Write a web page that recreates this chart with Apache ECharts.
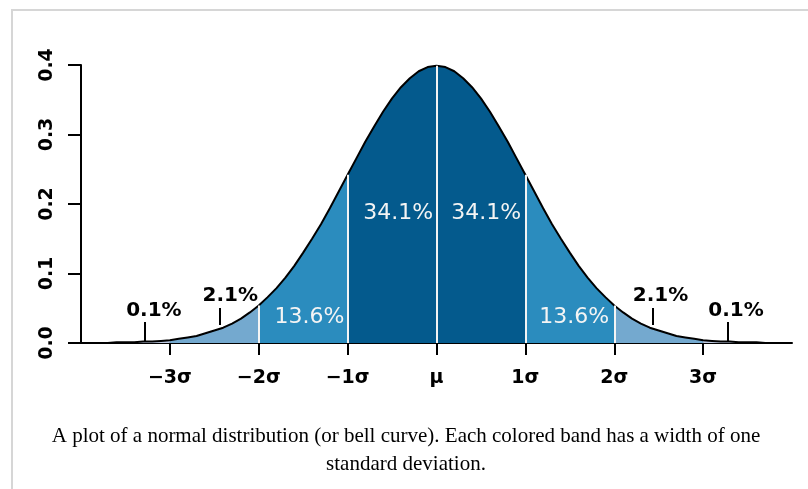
<!DOCTYPE html>
<html>
<head>
<meta charset="utf-8">
<script src="https://cdn.jsdelivr.net/npm/echarts@6/dist/echarts.min.js"></script>
<style>
  html, body { margin: 0; padding: 0; background: #ffffff; }
  #chart { width: 808px; height: 489px; }
</style>
</head>
<body>
<div id="chart"></div>
<script>
// Standard normal curve, x in units of sigma
const sigmaX = [
  -4.0, -3.9, -3.8, -3.7, -3.6, -3.5, -3.4, -3.3, -3.2, -3.1,
  -3.0, -2.9, -2.8, -2.7, -2.6, -2.5, -2.4, -2.3, -2.2, -2.1,
  -2.0, -1.9, -1.8, -1.7, -1.6, -1.5, -1.4, -1.3, -1.2, -1.1,
  -1.0, -0.9, -0.8, -0.7, -0.6, -0.5, -0.4, -0.3, -0.2, -0.1,
   0.0,  0.1,  0.2,  0.3,  0.4,  0.5,  0.6,  0.7,  0.8,  0.9,
   1.0,  1.1,  1.2,  1.3,  1.4,  1.5,  1.6,  1.7,  1.8,  1.9,
   2.0,  2.1,  2.2,  2.3,  2.4,  2.5,  2.6,  2.7,  2.8,  2.9,
   3.0,  3.1,  3.2,  3.3,  3.4,  3.5,  3.6,  3.7,  3.8,  3.9,
   4.0
];
const density = [
  0.000, 0.000, 0.000, 0.000, 0.001, 0.001, 0.001, 0.002, 0.002, 0.003,
  0.004, 0.006, 0.008, 0.010, 0.014, 0.018, 0.022, 0.028, 0.035, 0.044,
  0.054, 0.066, 0.079, 0.094, 0.111, 0.130, 0.150, 0.171, 0.194, 0.218,
  0.242, 0.266, 0.290, 0.312, 0.333, 0.352, 0.368, 0.381, 0.391, 0.397,
  0.399, 0.397, 0.391, 0.381, 0.368, 0.352, 0.333, 0.312, 0.290, 0.266,
  0.242, 0.218, 0.194, 0.171, 0.150, 0.130, 0.111, 0.094, 0.079, 0.066,
  0.054, 0.044, 0.035, 0.028, 0.022, 0.018, 0.014, 0.010, 0.008, 0.006,
  0.004, 0.003, 0.002, 0.002, 0.001, 0.001, 0.001, 0.000, 0.000, 0.000,
  0.000
];

// Axis ticks
const xTickValues = [-3, -2, -1, 0, 1, 2, 3];
const xTickLabels = ['\u22123\u03c3', '\u22122\u03c3', '\u22121\u03c3', '\u03bc', '1\u03c3', '2\u03c3', '3\u03c3'];
const yTickValues = [0, 0.1, 0.2, 0.3, 0.4];

// Bands one sigma wide and the share of the area in each
const bandEdges = [-4, -3, -2, -1, 0, 1, 2, 3, 4];
const bandShares = ['0.1%', '2.1%', '13.6%', '34.1%', '34.1%', '13.6%', '2.1%', '0.1%'];

// Styling / placement (kept apart from the data)
const bandColors = ['#bdc9e1', '#74a9cf', '#2b8cbe', '#045a8d', '#045a8d', '#2b8cbe', '#74a9cf', '#bdc9e1'];
const bandLabelInside = [false, false, true, true, true, true, false, false];
const bandLabelAt = [
  [-3.18, 0.0465], [-2.32, 0.0676], [-1.43, 0.0374], [-0.43, 0.187],
  [0.56, 0.187], [1.55, 0.0374], [2.52, 0.0676], [3.37, 0.0465]
];
// short pointers from the outer labels down to their band
const pointerAt = [
  [-3.28, 0.0029, 0.0302], [-2.44, 0.0259, 0.0504],
  [2.43, 0.0259, 0.0504], [3.28, 0.0029, 0.0302]
];
const dividerAt = [-2, -1, 0, 1, 2];

const points = sigmaX.map((x, i) => [x, density[i]]);
const heightAt = x => density[sigmaX.findIndex(v => Math.abs(v - x) < 1e-9)];

const bandSeries = bandColors.map((color, b) => ({
  type: 'line',
  data: points.filter(p => p[0] >= bandEdges[b] - 1e-9 && p[0] <= bandEdges[b + 1] + 1e-9),
  showSymbol: false,
  silent: true,
  lineStyle: { width: 0 },
  areaStyle: { color: color, opacity: 1 },
  z: 1
}));

const FONT = '"DejaVu Sans", Verdana, sans-serif';
const SERIF = '21px "Liberation Serif", "Times New Roman", serif';

const option = {
  animation: false,
  backgroundColor: '#ffffff',
  grid: { left: 81, right: 16, top: 65, bottom: 146, containLabel: false },
  xAxis: {
    type: 'value',
    min: -4, max: 4, interval: 1,
    axisLine: { show: true, onZero: false, lineStyle: { color: '#000', width: 2 } },
    axisTick: { show: true, customValues: xTickValues, length: 12, lineStyle: { color: '#000', width: 2 } },
    axisLabel: {
      customValues: xTickValues,
      formatter: v => xTickLabels[xTickValues.findIndex(t => Math.abs(t - v) < 1e-9)],
      color: '#000', fontFamily: FONT, fontWeight: 'bold', fontSize: 19, margin: 26
    },
    splitLine: { show: false }
  },
  yAxis: {
    type: 'value',
    min: 0, max: 0.4, interval: 0.1,
    axisLine: { show: true, onZero: false, lineStyle: { color: '#000', width: 2 } },
    axisTick: { show: true, customValues: yTickValues, length: 13, lineStyle: { color: '#000', width: 2 } },
    axisLabel: {
      rotate: 90,
      customValues: yTickValues,
      formatter: v => v.toFixed(1),
      color: '#000', fontFamily: FONT, fontWeight: 'bold', fontSize: 19, margin: 24
    },
    splitLine: { show: false }
  },
  series: [
    ...bandSeries,
    {
      // white dividers between the bands
      type: 'line', data: [], silent: true, z: 2,
      markLine: {
        silent: true, symbol: 'none', animation: false,
        label: { show: false },
        lineStyle: { color: '#f4f4f4', width: 2, type: 'solid', opacity: 1 },
        data: dividerAt.map(x => [{ coord: [x, 0] }, { coord: [x, heightAt(x)] }])
      }
    },
    {
      // the density curve itself
      type: 'line', data: points, showSymbol: false, silent: true, z: 3,
      lineStyle: { color: '#000', width: 2 }
    },
    {
      // pointers for the narrow outer bands
      type: 'line', data: [], silent: true, z: 4,
      markLine: {
        silent: true, symbol: 'none', animation: false,
        label: { show: false },
        lineStyle: { color: '#000', width: 2, type: 'solid', opacity: 1 },
        data: pointerAt.map(p => [{ coord: [p[0], p[1]] }, { coord: [p[0], p[2]] }])
      }
    },
    {
      // percentage of the total area in each band
      type: 'scatter', symbolSize: 0, silent: true, z: 5,
      itemStyle: { opacity: 1 },
      data: bandShares.map((s, b) => ({
        value: bandLabelAt[b],
        label: {
          show: true, position: 'inside', formatter: s,
          opacity: 1, textBorderWidth: 0,
          fontFamily: FONT,
          fontSize: bandLabelInside[b] ? 22 : 20,
          fontWeight: bandLabelInside[b] ? 'normal' : 'bold',
          color: bandLabelInside[b] ? '#f4f4f4' : '#000000'
        }
      }))
    }
  ],
  graphic: [
    {
      type: 'polyline', silent: true,
      shape: { points: [[12, 489], [12, 10], [808, 10]] },
      style: { stroke: '#d6d6d6', lineWidth: 2, fill: null }
    },
    {
      type: 'text', x: 406, y: 426, silent: true,
      style: {
        text: 'A plot of a normal distribution (or bell curve). Each colored band has a width of one',
        font: SERIF, fill: '#000', align: 'center'
      }
    },
    {
      type: 'text', x: 406, y: 454, silent: true,
      style: {
        text: 'standard deviation.',
        font: SERIF, fill: '#000', align: 'center'
      }
    }
  ]
};

const chart = echarts.init(document.getElementById('chart'), null, { renderer: 'canvas' });
chart.setOption(option);
</script>
</body>
</html>
